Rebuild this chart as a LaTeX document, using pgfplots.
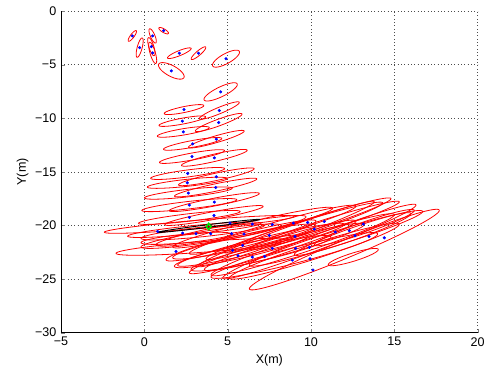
\documentclass[border=0pt]{standalone}
\usepackage{fontspec}
\setmainfont{Liberation Sans}
\usepackage{pgfplots}
\pgfplotsset{compat=1.18}
\begin{document}
\begin{tikzpicture}
\useasboundingbox (-45.75pt,-27.98pt) rectangle (321.75pt,249.5pt);
\begin{axis}[
  at={(0,0)}, anchor=south west,
  scale only axis, width=312.5pt, height=241.2pt,
  xmin=-5, xmax=20, ymin=-30, ymax=0,
  axis x line*=bottom, axis y line*=left,
  tick align=inside, major tick length=3pt,
  xtick={-5,0,5,10,15,20}, xticklabels={−5,0,5,10,15,20},
  ytick={-30,-25,-20,-15,-10,-5,0}, yticklabels={−30,−25,−20,−15,−10,−5,0},
  tick label style={font=\fontsize{9.4}{11}\selectfont},
  label style={font=\fontsize{9.4}{11}\selectfont},
  grid=major,
  grid style={black!70, line width=0.4pt, dash pattern=on 0.5pt off 2pt},
  xlabel={X(m)}, ylabel={Y(m)},
  xlabel style={at={(axis description cs:0.5,-0.085)}, anchor=center},
  ylabel style={at={(axis description cs:-0.092,0.5)}, anchor=center},
  clip=false,
]
% ellipses: centre x, centre y, half width p, y offset of right end dy, half thickness h
\foreach \cx/\cy/\p/\dy/\h in {
  -0.72/-2.32/0.25/0.42/0.27,
  -0.28/-3.41/0.21/0.62/0.66,
  0.50/-2.32/0.22/-0.50/0.44,
  1.16/-1.83/0.29/-0.23/0.19,
  0.42/-3.32/0.22/-0.60/0.59,
  0.50/-3.90/0.24/-0.72/0.68,
  2.10/-3.93/0.71/0.43/0.25,
  3.25/-3.93/0.44/0.53/0.27,
  4.90/-4.44/0.81/0.60/0.52,
  1.62/-5.58/0.77/-0.53/0.56,
  4.58/-7.54/1.00/0.69/0.50,
  2.38/-9.19/1.19/0.37/0.28,
  2.28/-10.27/1.40/0.40/0.28,
  2.34/-11.27/1.56/0.40/0.30,
  2.90/-12.39/1.75/0.50/0.32,
  2.86/-13.57/1.95/0.55/0.33,
  2.60/-15.15/2.22/0.45/0.33,
  2.58/-16.02/2.40/0.40/0.33,
  2.64/-16.98/2.63/0.45/0.35,
  2.70/-18.10/2.85/0.50/0.35,
  2.70/-19.25/3.05/0.55/0.35,
  4.50/-9.28/1.20/0.75/0.32,
  4.46/-10.40/1.40/0.78/0.33,
  4.32/-11.95/1.67/0.75/0.33,
  4.20/-13.69/1.97/0.70/0.35,
  4.32/-15.46/2.27/0.75/0.35,
  4.28/-16.46/2.47/0.80/0.35,
  4.20/-17.82/2.70/0.80/0.37,
  4.18/-19.07/2.95/0.85/0.37,
  3.30/-19.90/5.70/0.73/0.40,
  3.50/-20.60/3.70/0.60/0.45,
  3.50/-22.00/5.20/0.60/0.50,
  4.00/-21.00/4.20/1.00/0.55,
  5.20/-20.50/4.50/1.30/0.60,
  5.80/-21.40/4.50/1.80/0.65,
  6.50/-20.20/4.80/1.80/0.60,
  7.70/-20.40/5.00/2.20/0.65,
  5.80/-22.40/4.00/1.40/0.65,
  6.00/-21.50/4.30/1.50/0.65,
  7.70/-22.00/5.00/2.40/0.70,
  9.00/-20.50/5.30/2.60/0.65,
  9.80/-20.00/5.00/2.50/0.60,
  10.80/-20.00/4.50/2.20/0.55,
  9.50/-21.80/5.50/2.80/0.75,
  7.00/-22.60/4.20/1.50/0.70,
  9.00/-22.80/5.00/2.00/0.75,
  12.00/-22.25/5.70/3.65/0.90,
  10.50/-21.50/5.80/3.40/0.75,
  8.50/-20.80/5.30/3.00/0.60,
  12.50/-20.80/3.50/1.90/0.60,
  13.20/-20.20/3.00/1.60/0.55,
  12.54/-22.95/1.50/0.70/0.40,
  2.50/-21.20/2.70/0.40/0.40,
  7.00/-21.80/5.00/1.90/0.65,
  8.40/-22.00/4.80/2.10/0.70,
  10.20/-22.40/5.10/2.50/0.75,
  3.00/-20.40/4.00/0.60/0.40,
  11.50/-21.20/5.20/2.50/0.70}
{
  \edef\temp{\noexpand\addplot[red, line width=0.6pt, domain=0:360, samples=91, forget plot]
    ({\cx+\p*cos(x)},{\cy+\dy*cos(x)+\h*sin(x)});}
  \temp
}
% estimated position ellipse (black)
\addplot[black, line width=0.7pt, domain=0:360, samples=91]
  ({3.87+3.07*cos(x)},{-20.04+0.60*cos(x)+0.12*sin(x)});
% estimates
\addplot[only marks, mark=*, mark size=0.95pt, blue] coordinates {
(-0.72,-2.32) (-0.28,-3.41) (0.50,-2.32) (1.16,-1.83) (0.42,-3.32) (0.50,-3.90)
(2.10,-3.93) (3.25,-3.93) (4.90,-4.44) (1.62,-5.58) (4.58,-7.54)
(2.38,-9.19) (4.50,-9.28) (2.28,-10.27) (4.46,-10.40) (2.34,-11.27) (4.32,-11.95)
(2.90,-12.39) (2.86,-13.57) (4.20,-13.69) (2.60,-15.15) (4.32,-15.46) (2.58,-16.02)
(4.28,-16.46) (2.64,-16.98) (4.20,-17.82) (2.70,-18.10) (4.18,-19.07) (2.70,-19.25)
(0.80,-20.56) (2.30,-20.71) (3.10,-20.77) (3.98,-20.77) (5.14,-19.78) (6.48,-19.87)
(5.24,-20.77) (5.98,-20.80) (1.90,-22.42) (5.30,-22.33) (5.90,-21.86) (5.62,-22.82)
(6.48,-22.95) (7.68,-19.91) (8.94,-19.78) (9.80,-19.72) (10.80,-19.63) (10.20,-20.34)
(13.14,-19.87) (11.46,-20.61) (12.30,-20.49) (12.64,-20.96) (13.48,-21.02) (14.40,-21.15)
(7.50,-20.93) (9.04,-21.02) (7.68,-22.14) (9.08,-22.14) (9.90,-22.05) (7.22,-22.89)
(8.88,-23.23) (9.94,-23.10) (10.12,-24.16)
};
% true position
\addplot[only marks, mark=diamond, mark size=2.4pt, color={rgb,1:red,0;green,0.9;blue,0}, line width=1.1pt] coordinates {(3.86,-20.1)};
\end{axis}
\end{tikzpicture}
\end{document}
